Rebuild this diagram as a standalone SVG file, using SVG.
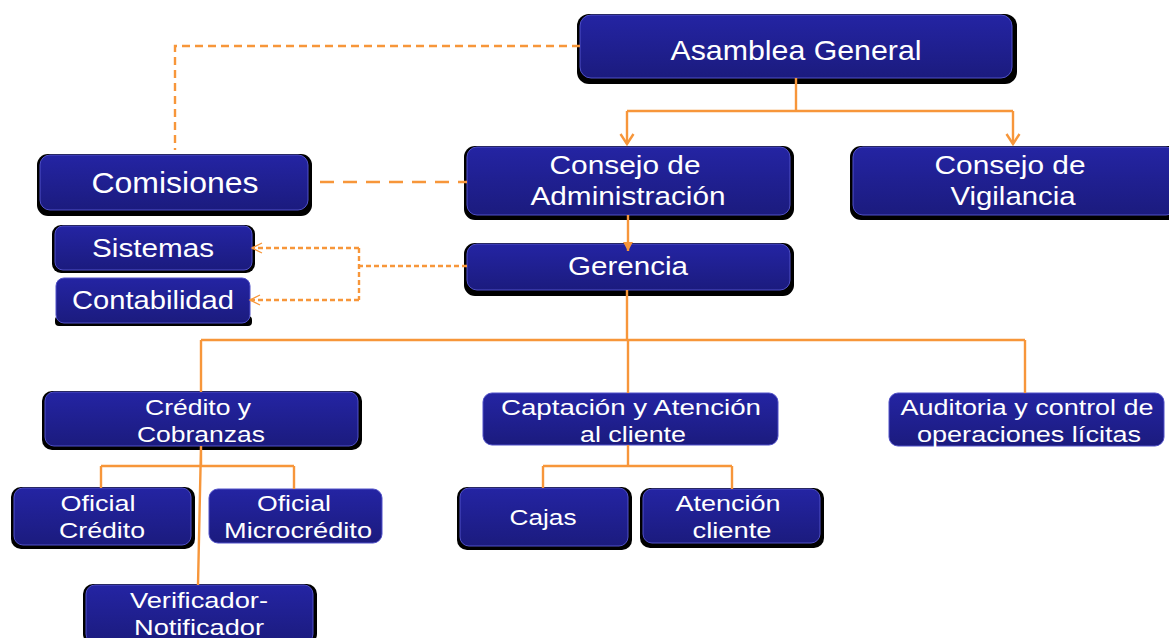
<svg xmlns="http://www.w3.org/2000/svg" width="1169" height="638" viewBox="0 0 1169 638">
<defs>
<linearGradient id="g" x1="0" y1="0" x2="0" y2="1">
<stop offset="0" stop-color="#2424a3"/>
<stop offset="1" stop-color="#1b1b7e"/>
</linearGradient>
<marker id="arr" markerWidth="14" markerHeight="16" refX="11" refY="8" orient="auto" markerUnits="userSpaceOnUse" viewBox="0 0 14 16">
<path d="M1,1.5 L11,8 L1,14.5" fill="none" stroke="#f7963a" stroke-width="2.4"/>
</marker>
<marker id="arrS" markerWidth="10" markerHeight="12" refX="9" refY="6" orient="auto" markerUnits="userSpaceOnUse" viewBox="0 0 10 12">
<path d="M0,1 L9,6 L0,11 Z" fill="#f7963a"/>
</marker>
<marker id="arrL" markerWidth="14" markerHeight="12" refX="12" refY="6" orient="auto" markerUnits="userSpaceOnUse" viewBox="0 0 14 12">
<path d="M2,1 L12,6 L2,11" fill="none" stroke="#f7963a" stroke-width="1.3"/>
</marker>
</defs>
<style>
.sh{fill:#000}
.bx{fill:url(#g);stroke:#5050c8;stroke-width:1}
.t{fill:#fff;font-family:"Liberation Sans",Arial,sans-serif;text-anchor:middle}
.ln{fill:none;stroke:#f7963a;stroke-width:2.4}
</style>
<rect width="1169" height="638" fill="#fff"/>
<g id="asamblea">
<rect class="sh" x="577" y="14" width="440" height="70" rx="12"/>
<rect class="bx" x="580" y="15" width="432" height="63" rx="11"/>
<text class="t" x="796" y="60" font-size="28" textLength="251" lengthAdjust="spacingAndGlyphs">Asamblea  General</text>
</g>
<g id="comisiones">
<rect class="sh" x="37" y="154" width="275" height="62" rx="11"/>
<rect class="bx" x="40" y="155" width="268" height="55" rx="10"/>
<text class="t" x="175" y="193" font-size="29" textLength="167" lengthAdjust="spacingAndGlyphs">Comisiones</text>
</g>
<g id="consejo-admin">
<rect class="sh" x="464" y="146" width="330" height="74" rx="11"/>
<rect class="bx" x="467" y="147" width="323" height="68" rx="10"/>
<text class="t" x="625" y="174" font-size="26" textLength="151" lengthAdjust="spacingAndGlyphs">Consejo de</text>
<text class="t" x="628" y="205" font-size="26" textLength="195" lengthAdjust="spacingAndGlyphs">Administración</text>
</g>
<g id="consejo-vigilancia">
<rect class="sh" x="850" y="146" width="330" height="74" rx="11"/>
<rect class="bx" x="853" y="147" width="323" height="68" rx="10"/>
<text class="t" x="1010" y="174" font-size="26" textLength="151" lengthAdjust="spacingAndGlyphs">Consejo de</text>
<text class="t" x="1013" y="205" font-size="26" textLength="125" lengthAdjust="spacingAndGlyphs">Vigilancia</text>
</g>
<g id="gerencia">
<rect class="sh" x="464" y="243" width="330" height="53" rx="11"/>
<rect class="bx" x="467" y="244" width="323" height="46" rx="10"/>
<text class="t" x="628" y="275" font-size="26" textLength="120" lengthAdjust="spacingAndGlyphs">Gerencia</text>
</g>
<g id="sistemas">
<rect class="sh" x="52" y="225" width="203" height="48" rx="9"/>
<rect class="bx" x="55" y="226" width="197" height="44" rx="8"/>
<text class="t" x="153" y="257" font-size="25" textLength="122" lengthAdjust="spacingAndGlyphs">Sistemas</text>
</g>
<g id="contabilidad">
<rect class="sh" x="55" y="316" width="197" height="10" rx="4"/>
<rect class="bx" x="56" y="278" width="194" height="45" rx="8"/>
<text class="t" x="153" y="309" font-size="25" textLength="162" lengthAdjust="spacingAndGlyphs">Contabilidad</text>
</g>
<g id="credito">
<rect class="sh" x="42" y="391" width="320" height="59" rx="10"/>
<rect class="bx" x="45" y="392" width="313" height="54" rx="9"/>
<text class="t" x="198" y="415" font-size="22" textLength="106" lengthAdjust="spacingAndGlyphs">Crédito y</text>
<text class="t" x="201" y="442" font-size="22" textLength="128" lengthAdjust="spacingAndGlyphs">Cobranzas</text>
</g>
<g id="captacion">
<rect class="bx" x="483" y="393" width="295" height="52" rx="9"/>
<text class="t" x="631" y="415" font-size="22" textLength="260" lengthAdjust="spacingAndGlyphs">Captación y  Atención</text>
<text class="t" x="633" y="442" font-size="22" textLength="106" lengthAdjust="spacingAndGlyphs">al cliente</text>
</g>
<g id="auditoria">
<rect class="bx" x="889" y="393" width="275" height="53" rx="9"/>
<text class="t" x="1027" y="415" font-size="22" textLength="253" lengthAdjust="spacingAndGlyphs">Auditoria y control de</text>
<text class="t" x="1029" y="442" font-size="22" textLength="224" lengthAdjust="spacingAndGlyphs">operaciones lícitas</text>
</g>
<g id="oficial-credito">
<rect class="sh" x="11" y="487" width="184" height="62" rx="10"/>
<rect class="bx" x="14" y="488" width="177" height="57" rx="9"/>
<text class="t" x="98" y="511" font-size="22" textLength="75" lengthAdjust="spacingAndGlyphs">Oficial</text>
<text class="t" x="102" y="538" font-size="22" textLength="86" lengthAdjust="spacingAndGlyphs">Crédito</text>
</g>
<g id="oficial-microcredito">
<rect class="bx" x="209" y="489" width="173" height="54" rx="9"/>
<text class="t" x="294" y="511" font-size="22" textLength="74" lengthAdjust="spacingAndGlyphs">Oficial</text>
<text class="t" x="298" y="538" font-size="22" textLength="148" lengthAdjust="spacingAndGlyphs">Microcrédito</text>
</g>
<g id="verificador">
<rect class="sh" x="83" y="584" width="234" height="60" rx="10"/>
<rect class="bx" x="86" y="585" width="227" height="58" rx="9"/>
<text class="t" x="199" y="608" font-size="22" textLength="138" lengthAdjust="spacingAndGlyphs">Verificador-</text>
<text class="t" x="199" y="635" font-size="22" textLength="130" lengthAdjust="spacingAndGlyphs">Notificador</text>
</g>
<g id="cajas">
<rect class="sh" x="457" y="487" width="175" height="63" rx="10"/>
<rect class="bx" x="460" y="488" width="168" height="58" rx="9"/>
<text class="t" x="543" y="525" font-size="22" textLength="67" lengthAdjust="spacingAndGlyphs">Cajas</text>
</g>
<g id="atencion-cliente">
<rect class="sh" x="640" y="488" width="184" height="60" rx="10"/>
<rect class="bx" x="643" y="489" width="177" height="54" rx="9"/>
<text class="t" x="728" y="511" font-size="22" textLength="105" lengthAdjust="spacingAndGlyphs">Atención</text>
<text class="t" x="732" y="538" font-size="22" textLength="79" lengthAdjust="spacingAndGlyphs">cliente</text>
</g>
<g id="connectors">
<path class="ln" d="M580,46 H175 V150" stroke-dasharray="8,5" stroke-width="2"/>
<path class="ln" d="M320,182 H467" stroke-dasharray="14,9" stroke-width="3.2"/>
<path class="ln" d="M796,78 V111 M627,111 H1013" />
<path class="ln" d="M627,111 V144" marker-end="url(#arr)"/>
<path class="ln" d="M1013,111 V144" marker-end="url(#arr)"/>
<path class="ln" d="M628,215 V251" marker-end="url(#arrS)" stroke-width="3"/>
<path class="ln" d="M467,266 H359 M359,248 V300" stroke-dasharray="5,3" stroke-width="1.3"/>
<path class="ln" d="M359,248 H252" stroke-dasharray="5,3" stroke-width="1.3" marker-end="url(#arrL)"/>
<path class="ln" d="M359,300 H250" stroke-dasharray="5,3" stroke-width="1.3" marker-end="url(#arrL)"/>
<path class="ln" d="M627,290 V340 M201,340 H1025 M201,340 V392 M628,340 V393 M1025,340 V393"/>
<path class="ln" d="M201,446 V466 M101,466 H294 M101,466 V488 M294,466 V489 M201,446 L198,585"/>
<path class="ln" d="M628,445 V466 M543,466 H732 M543,466 V488 M732,466 V489"/>
</g>
</svg>
